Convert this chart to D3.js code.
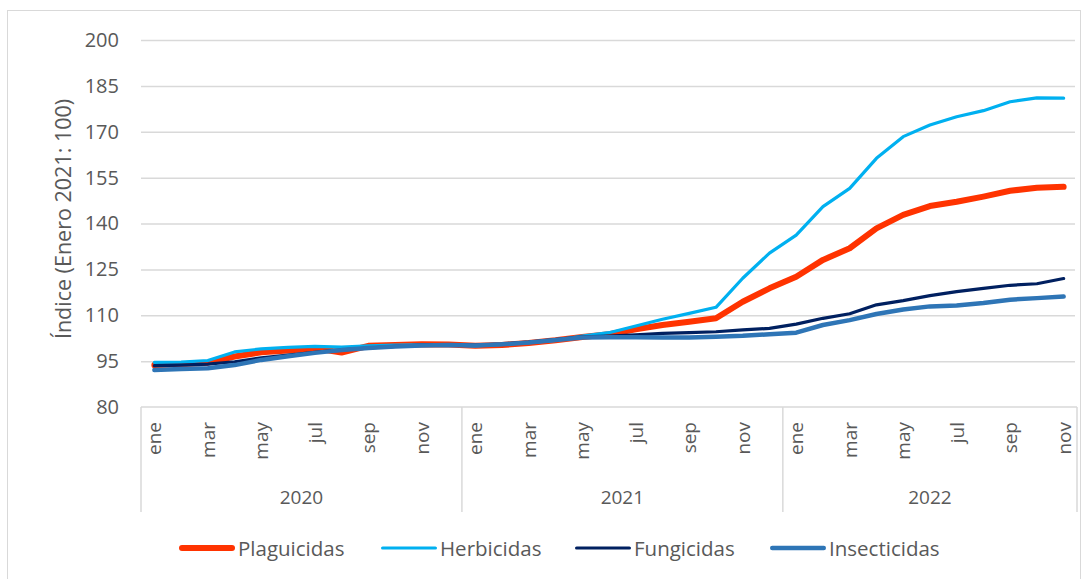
<!DOCTYPE html>
<html>
<head>
<meta charset="utf-8">
<script src="https://cdn.jsdelivr.net/npm/d3@7"></script>
<style>
  body { margin: 0; background: #fff; }
  text { font-family: "Open Sans", "Noto Sans", sans-serif; fill: #595959; }
</style>
</head>
<body>
<div id="demo"></div>
<script>
let months = ["ene","feb","mar","abr","may","jun","jul","ago","sep","oct","nov","dic"];
let years = ["2020", "2021", "2022"];
let yTicks = [80, 95, 110, 125, 140, 155, 170, 185, 200];

let plaguicidas = [93.7, 94.0, 94.5, 96.5, 97.9, 98.5, 99.2, 97.8, 100.0, 100.3, 100.5, 100.4,
  100.0, 100.3, 100.9, 101.8, 102.9, 103.8, 105.4, 106.8, 107.9, 109.0, 114.4, 118.8,
  122.6, 128.1, 131.9, 138.4, 142.8, 145.7, 147.1, 148.8, 150.7, 151.7, 152.0];
let herbicidas = [94.6, 94.7, 95.2, 98.0, 99.0, 99.5, 99.8, 99.6, 100.0, 100.2, 100.3, 100.3,
  100.0, 100.5, 101.0, 101.8, 103.2, 104.3, 106.5, 108.7, 110.6, 112.6, 122.1, 130.3,
  136.2, 145.5, 151.5, 161.3, 168.4, 172.2, 174.9, 176.9, 179.8, 181.1, 181.0];
let fungicidas = [93.5, 93.7, 94.0, 94.8, 96.1, 97.0, 97.9, 98.7, 99.3, 99.8, 100.2, 100.4,
  100.2, 100.6, 101.2, 102.0, 102.9, 103.2, 103.6, 104.1, 104.3, 104.6, 105.2, 105.7,
  107.1, 109.0, 110.5, 113.4, 114.8, 116.4, 117.7, 118.8, 119.8, 120.3, 122.0];
let insecticidas = [92.1, 92.4, 92.7, 93.7, 95.4, 96.6, 97.7, 98.6, 99.3, 99.8, 100.1, 100.3,
  100.1, 100.5, 101.1, 101.9, 102.7, 102.8, 102.8, 102.7, 102.7, 103.0, 103.3, 103.8,
  104.3, 106.8, 108.4, 110.4, 111.9, 112.9, 113.2, 114.0, 115.1, 115.6, 116.1];

// one entry per month, ene 2020 .. nov 2022
let cats = [];
years.forEach((yr) => {
  months.forEach((mo) => { cats.push({ key: yr + "-" + mo, mo: mo, yr: yr }); });
});
cats = cats.slice(0, plaguicidas.length);

let series = [
  { name: "Plaguicidas", values: plaguicidas, color: "#FF3300", width: 6 },
  { name: "Herbicidas", values: herbicidas, color: "#00B0F0", width: 3.2 },
  { name: "Fungicidas", values: fungicidas, color: "#002060", width: 3.2 },
  { name: "Insecticidas", values: insecticidas, color: "#2E75B6", width: 4.5 }
];

let w = 1090, h = 579;
let m = { left: 141, right: 1077, top: 40, bottom: 407 };

let svg = d3.select("#demo").append("svg")
  .attr("width", w)
  .attr("height", h);

// chart border
svg.append("rect")
  .attr("x", 7.5).attr("y", 10.5)
  .attr("width", 1073).attr("height", 580)
  .attr("fill", "none")
  .attr("stroke", "#D9D9D9")
  .attr("stroke-width", 1);

let x = d3.scaleBand()
  .domain(cats.map((d) => d.key))
  .range([m.left, m.right]);

let y = d3.scaleLinear()
  .domain([80, 200])
  .range([m.bottom, m.top]);

let cx = (key) => x(key) + x.bandwidth() / 2;

// gridlines + y labels
let yAxis = svg.append("g")
  .attr("transform", "translate(" + m.left + ",0)")
  .call(d3.axisLeft(y).tickValues(yTicks).tickSize(-(m.right - m.left - 2)).tickPadding(22));

yAxis.select(".domain").remove();
yAxis.selectAll(".tick line")
  .attr("stroke", "#D9D9D9")
  .attr("stroke-width", 1.5);
yAxis.selectAll(".tick text")
  .attr("font-size", 20)
  .attr("font-family", "\"Open Sans\", sans-serif")
  .attr("fill", "#595959");
yAxis.selectAll(".tick").filter((d) => d === 80).select("line").remove();

svg.append("text")
  .attr("transform", "translate(71,219) rotate(-90)")
  .attr("text-anchor", "middle")
  .attr("font-size", 21.5)
  .text("Índice (Enero 2021: 100)");

// category axis
let axisG = svg.append("g");

axisG.append("line")
  .attr("x1", m.left).attr("x2", m.right)
  .attr("y1", m.bottom).attr("y2", m.bottom)
  .attr("stroke", "#D9D9D9")
  .attr("stroke-width", 1.5);

let dividers = years.map((yr) => cats.find((c) => c.yr === yr).key);
axisG.selectAll(".div")
  .data(dividers)
  .enter().append("line")
  .attr("x1", (d) => x(d)).attr("x2", (d) => x(d))
  .attr("y1", m.bottom).attr("y2", 512)
  .attr("stroke", "#D9D9D9")
  .attr("stroke-width", 1.5);

axisG.append("line")
  .attr("x1", m.right).attr("x2", m.right)
  .attr("y1", m.bottom).attr("y2", 512)
  .attr("stroke", "#D9D9D9")
  .attr("stroke-width", 1.5);

axisG.selectAll(".mo")
  .data(cats.filter((d, i) => i % 2 === 0))
  .enter().append("text")
  .attr("transform", (d) => "translate(" + (cx(d.key) + 7) + ",422) rotate(-90)")
  .attr("text-anchor", "end")
  .attr("font-size", 19)
  .text((d) => d.mo);

axisG.selectAll(".yr")
  .data(years)
  .enter().append("text")
  .attr("x", (yr) => {
    let inYear = cats.filter((c) => c.yr === yr);
    return (x(inYear[0].key) + x(inYear[inYear.length - 1].key) + x.bandwidth()) / 2;
  })
  .attr("y", 504)
  .attr("text-anchor", "middle")
  .attr("font-size", 19)
  .text((yr) => yr);

// lines
let line = d3.line()
  .x((d, i) => cx(cats[i].key))
  .y((d) => y(d));

svg.append("g")
  .selectAll("path")
  .data(series)
  .enter().append("path")
  .attr("d", (s) => line(s.values))
  .attr("fill", "none")
  .attr("stroke", (s) => s.color)
  .attr("stroke-width", (s) => s.width)
  .attr("stroke-linejoin", "round")
  .attr("stroke-linecap", "round");

// legend
let legendX = [179, 381, 575, 770];
let legend = svg.append("g");

let item = legend.selectAll("g")
  .data(series)
  .enter().append("g")
  .attr("transform", (s, i) => "translate(" + legendX[i] + ",548)");

item.append("line")
  .attr("x1", (s) => s.width / 2).attr("x2", (s) => 56 - s.width / 2)
  .attr("y1", 0).attr("y2", 0)
  .attr("stroke", (s) => s.color)
  .attr("stroke-width", (s) => s.width)
  .attr("stroke-linecap", "round");

item.append("text")
  .attr("x", 59)
  .attr("y", 7.5)
  .attr("font-size", 20.5)
  .text((s) => s.name);
</script>
</body>
</html>
